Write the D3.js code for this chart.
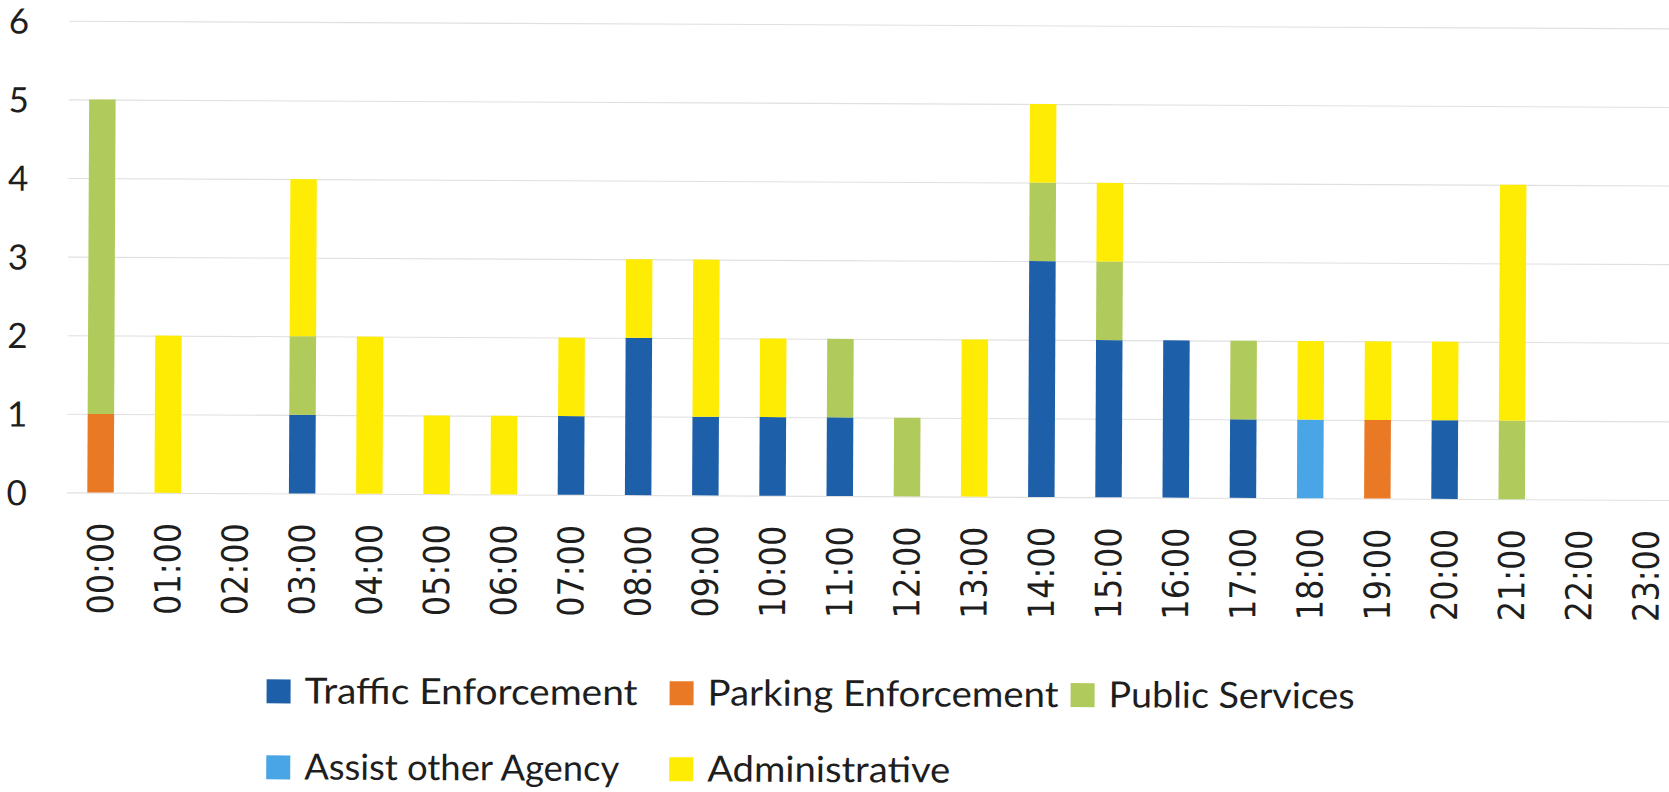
<!DOCTYPE html>
<html>
<head>
<meta charset="utf-8">
<script src="https://cdn.jsdelivr.net/npm/d3@7"></script>
<style>
  body { margin: 0; background: #ffffff; }
  svg { display: block; }
</style>
</head>
<body>
<svg id="chart" width="1669" height="792"></svg>
<script>
// Hour-of-day categories (also the x tick labels)
const hours = ["00:00","01:00","02:00","03:00","04:00","05:00","06:00","07:00",
               "08:00","09:00","10:00","11:00","12:00","13:00","14:00","15:00",
               "16:00","17:00","18:00","19:00","20:00","21:00","22:00","23:00"];

// Incident counts per hour, one array per category
const trafficEnforcement = [0,0,0,1,0,0,0,1,2,1,1,1,0,0,3,2,2,1,0,0,1,0,0,0];
const parkingEnforcement = [1,0,0,0,0,0,0,0,0,0,0,0,0,0,0,0,0,0,0,1,0,0,0,0];
const publicServices     = [4,0,0,1,0,0,0,0,0,0,0,1,1,0,1,1,0,1,0,0,0,1,0,0];
const assistOtherAgency  = [0,0,0,0,0,0,0,0,0,0,0,0,0,0,0,0,0,0,1,0,0,0,0,0];
const administrative     = [0,2,0,2,2,1,1,1,1,2,1,0,0,2,1,1,0,0,1,1,1,3,0,0];

const seriesNames  = ["Traffic Enforcement","Parking Enforcement","Public Services",
                      "Assist other Agency","Administrative"];
const seriesColors = ["#1d5fa9","#ea7926","#b0cb5c","#49a5e6","#ffec05"];
const yTicks = [0,1,2,3,4,5,6];

// Build rows for d3.stack
const seriesValues = [trafficEnforcement, parkingEnforcement, publicServices,
                      assistOtherAgency, administrative];
const rows = hours.map((h, i) => {
  const r = { hour: h };
  seriesNames.forEach((n, k) => { r[n] = seriesValues[k][i]; });
  return r;
});
const stacked = d3.stack().keys(seriesNames)(rows);

const svg = d3.select("#chart");
svg.append("rect").attr("width", 1669).attr("height", 792).attr("fill", "#fff");

// whole sheet sits very slightly tilted
const root = svg.append("g").attr("transform", "rotate(0.27 834 396)");

const x = d3.scaleBand().domain(hours)
  .range([67.4, 1680.2]).paddingInner(0.606).paddingOuter(0.303);
const y = d3.scaleLinear().domain([0, 6]).range([496, 24.4]);

// y axis with gridlines
const yAxis = root.append("g")
  .attr("transform", `translate(${x.range()[0]},0)`)
  .call(d3.axisLeft(y).tickValues(yTicks).tickFormat(d3.format("d"))
        .tickSizeInner(-(x.range()[1] - x.range()[0])).tickSizeOuter(0).tickPadding(40));
yAxis.select(".domain").remove();
yAxis.selectAll(".tick line").attr("stroke", "#e0e0e0").attr("stroke-width", 1.1);
yAxis.selectAll(".tick text")
  .attr("font-family", "Lato, 'Open Sans', sans-serif")
  .attr("font-size", 35)
  .attr("fill", "#1e1e1e")
  .attr("dy", "0.36em");

// stacked bars
root.append("g").selectAll("g")
  .data(stacked).join("g")
  .attr("fill", (d, i) => seriesColors[i])
  .selectAll("rect")
  .data(d => d.filter(s => s[1] > s[0]))
  .join("rect")
  .attr("x", d => x(d.data.hour))
  .attr("width", x.bandwidth())
  .attr("y", d => y(d[1]))
  .attr("height", d => y(d[0]) - y(d[1]));

// x axis (rotated hour labels)
const xAxis = root.append("g")
  .attr("transform", `translate(0,${y(0)})`)
  .call(d3.axisBottom(x).tickSize(0));
xAxis.select(".domain").remove();
xAxis.selectAll(".tick text")
  .attr("font-family", "'DejaVu Sans Condensed', 'DejaVu Sans', sans-serif")
  .attr("font-size", 36)
  .attr("fill", "#1e1e1e")
  .attr("transform", "rotate(-90)")
  .attr("text-anchor", "end")
  .attr("x", -30)
  .attr("y", 0)
  .attr("dy", "0.36em")
  .attr("textLength", 92)
  .attr("lengthAdjust", "spacingAndGlyphs");

// legend: two rows
const legendCols = [268, 671, 1072];
const legendRows = [706, 782];
const legendTextWidths = [333, 351, 246, 315, 243];
const legend = root.append("g")
  .selectAll("g")
  .data(seriesNames)
  .join("g")
  .attr("transform", (d, i) => {
    const row = i < 3 ? 0 : 1;
    const col = i < 3 ? i : i - 3;
    return `translate(${legendCols[col]},${legendRows[row]})`;
  });
legend.append("rect")
  .attr("x", 0).attr("y", -24)
  .attr("width", 24).attr("height", 24)
  .attr("fill", (d, i) => seriesColors[i]);
legend.append("text")
  .attr("x", 38).attr("y", 0)
  .attr("font-family", "Lato, 'Open Sans', sans-serif")
  .attr("font-size", 36)
  .attr("fill", "#1e1e1e")
  .attr("textLength", (d, i) => legendTextWidths[i])
  .attr("lengthAdjust", "spacingAndGlyphs")
  .text(d => d);
</script>
</body>
</html>
